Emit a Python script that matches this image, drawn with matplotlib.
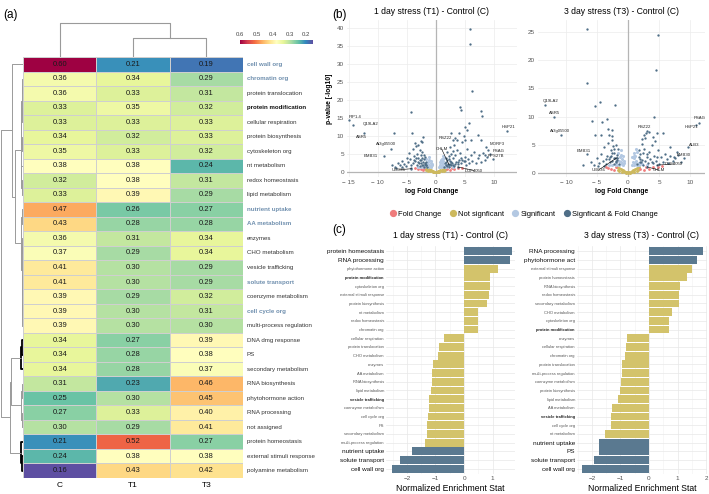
import matplotlib
matplotlib.use("Agg")
import matplotlib.pyplot as plt
from matplotlib.colors import Normalize
from matplotlib.lines import Line2D

plt.rcParams["font.family"] = ["Liberation Sans", "DejaVu Sans"]

# ---------------- data ----------------
rows = ["cell wall org", "chromatin org", "protein translocation", "protein modification",
        "cellular respiration", "protein biosynthesis", "cytoskeleton org", "nt metabolism",
        "redox homeostasis", "lipid metabolism", "nutrient uptake", "AA metabolism", "enzymes",
        "CHO metabolism", "vesicle trafficking", "solute transport", "coenzyme metabolism",
        "cell cycle org", "multi-process regulation", "DNA dmg response", "PS",
        "secondary metabolism", "RNA biosynthesis", "phytohormone action", "RNA processing",
        "not assigned", "protein homeostasis", "external stimuli response", "polyamine metabolism"]
cols = ["C", "T1", "T3"]
val_C = [0.60, 0.36, 0.36, 0.33, 0.33, 0.34, 0.35, 0.38, 0.32, 0.33, 0.47, 0.43, 0.36, 0.37, 0.41,
         0.41, 0.39, 0.39, 0.39, 0.34, 0.34, 0.34, 0.31, 0.25, 0.27, 0.30, 0.21, 0.24, 0.16]
val_T1 = [0.21, 0.34, 0.33, 0.35, 0.33, 0.32, 0.33, 0.38, 0.38, 0.39, 0.26, 0.28, 0.31, 0.29, 0.30,
          0.30, 0.29, 0.30, 0.30, 0.27, 0.28, 0.28, 0.23, 0.30, 0.33, 0.29, 0.52, 0.38, 0.43]
val_T3 = [0.19, 0.29, 0.31, 0.32, 0.33, 0.33, 0.32, 0.24, 0.31, 0.29, 0.27, 0.28, 0.34, 0.34, 0.29,
          0.29, 0.32, 0.31, 0.30, 0.39, 0.38, 0.37, 0.46, 0.45, 0.40, 0.41, 0.27, 0.38, 0.42]
blue_rows = ["cell wall org", "chromatin org", "nutrient uptake", "AA metabolism",
             "solute transport", "cell cycle org"]

# dendrogram merges (node a, node b, height); leaves are row / column indices
row_merges = [(1, 2, 0.03), (3, 4, 0.03), (29, 30, 0.05), (5, 6, 0.04), (31, 32, 0.07),
              (8, 9, 0.05), (7, 34, 0.08), (33, 35, 0.10), (10, 11, 0.06), (12, 13, 0.04),
              (14, 15, 0.02), (16, 17, 0.02), (40, 18, 0.03), (39, 41, 0.04), (38, 42, 0.06),
              (37, 43, 0.10), (36, 44, 0.38), (0, 45, 0.49), (19, 20, 0.05), (47, 21, 0.08),
              (22, 23, 0.05), (24, 25, 0.04), (49, 50, 0.08), (48, 51, 0.55), (27, 28, 0.06),
              (26, 53, 0.09), (52, 54, 0.60), (46, 55, 1.0)]
row_black = [47, 48, 53, 54]
col_merges = [(1, 2, 0.56), (0, 3, 1.0)]

# volcano: 1 day stress (T1)
t1_dark = [(-7.5, 2.0), (-7.0, 1.5), (-6.5, 2.4), (-6.2, 1.8), (-5.8, 3.1), (-5.5, 2.2), (-5.2, 1.6),
           (-5.0, 4.0), (-4.8, 2.8), (-4.6, 5.2), (-4.4, 3.5), (-4.2, 1.9), (-4.0, 6.5), (-3.9, 2.6),
           (-3.7, 4.4), (-3.5, 3.0), (-3.4, 7.2), (-3.3, 1.8), (-3.2, 5.0), (-3.0, 3.8), (-2.9, 2.4),
           (-2.8, 6.0), (-2.7, 1.6), (-2.6, 4.6), (-2.5, 3.2), (-2.4, 2.0), (-2.3, 5.5), (-2.2, 2.8),
           (-2.1, 1.5), (-2.0, 3.6), (-1.9, 2.2), (-1.8, 4.2), (-1.7, 1.8), (-1.6, 2.9), (-1.5, 1.4),
           (-3.6, 8.1), (-2.6, 8.6), (-4.3, 1.2), (-5.9, 1.3), (-6.8, 1.2),
           (-2.2, 1.9), (-2.5, 2.5), (-2.8, 3.4), (-3.1, 2.9), (-1.8, 2.6), (-2.0, 4.8), (-3.4, 4.0),
           (-3.8, 3.2), (-2.4, 3.9), (-1.6, 1.9),
           (1.5, 1.5), (1.6, 2.6), (1.7, 4.0), (1.8, 1.9), (1.9, 3.2), (2.0, 5.5), (2.1, 2.3),
           (2.2, 1.4), (2.3, 4.4), (2.4, 6.8), (2.5, 3.0), (2.6, 1.8), (2.7, 5.0), (2.8, 2.5),
           (3.0, 3.8), (3.1, 7.5), (3.2, 1.6), (3.3, 4.6), (3.5, 2.8), (3.6, 6.0), (3.8, 2.1),
           (4.0, 3.4), (4.2, 5.2), (4.4, 2.4), (4.6, 8.2), (4.8, 3.0), (5.0, 4.2), (5.2, 2.0),
           (5.4, 6.4), (5.6, 3.6), (5.8, 2.6), (6.0, 4.8), (6.3, 3.0), (6.6, 5.6), (6.9, 2.4),
           (7.2, 3.9), (7.5, 4.6), (7.8, 2.8), (8.1, 5.4), (8.4, 3.4), (8.8, 4.2), (9.3, 5.0),
           (9.8, 3.6), (3.4, 9.5), (4.0, 10.8), (2.9, 8.8), (5.0, 9.0),
           (2.0, 1.7), (2.4, 2.2), (2.9, 1.9), (3.4, 2.1), (3.9, 2.7), (4.5, 3.3), (2.2, 3.6),
           (2.6, 2.8), (1.8, 2.9), (3.0, 5.8), (4.3, 4.0), (5.1, 3.1),
           (5.9, 39.7), (5.9, 35.5), (6.2, 22.5), (4.1, 18.0), (4.3, 17.2), (7.8, 17.0), (7.9, 15.6),
           (-4.3, 16.6), (-4.1, 10.8), (-7.2, 10.8), (2.6, 10.8), (5.0, 12.5), (5.7, 13.6),
           (5.3, 11.7), (7.2, 10.3), (7.8, 8.9), (6.0, 8.9), (4.8, 10.0), (-2.2, 9.7), (-2.4, 8.3),
           (-3.1, 7.5)]
t1_light = [(-1.4, 1.5), (-1.2, 2.0), (-1.0, 1.6), (-0.9, 2.4), (-0.8, 1.4), (-0.6, 1.8), (-1.3, 2.8),
            (-1.1, 3.2), (-0.7, 2.2), (-1.5, 2.2), (0.6, 1.5), (0.8, 2.0), (0.9, 1.4), (1.0, 2.6),
            (1.1, 1.7), (1.2, 3.0), (1.3, 2.2), (1.4, 1.5), (0.7, 2.8), (1.0, 3.5), (-2.0, 1.4),
            (-2.5, 1.5), (1.8, 1.4), (2.3, 1.6), (-1.6, 3.5), (1.5, 3.8), (-3.0, 1.4), (3.0, 1.4),
            (-1.2, 4.2), (1.3, 4.5), (-0.8, 3.0), (0.9, 3.2), (-1.9, 1.7), (1.7, 1.8)]
t1_tan = [(-1.8, 1.0), (-1.5, 0.9), (-1.2, 0.7), (-1.0, 0.6), (-0.8, 0.5), (-0.6, 0.35), (-0.4, 0.25),
          (-0.2, 0.1), (0.0, 0.02), (0.2, 0.1), (0.4, 0.25), (0.6, 0.35), (0.8, 0.5), (1.0, 0.6),
          (1.2, 0.7), (1.5, 0.9), (1.8, 1.0), (-0.5, 0.1), (0.5, 0.1), (-1.0, 0.2), (1.0, 0.2),
          (-1.4, 0.4), (1.4, 0.4), (-0.3, 0.05), (0.3, 0.05), (-1.6, 0.6), (1.6, 0.6)]
t1_red = [(-3.0, 0.9), (-2.6, 0.7), (-2.2, 0.5), (-2.0, 1.1), (-3.5, 1.1), (2.0, 0.8), (2.4, 0.6),
          (2.8, 1.0), (3.2, 0.8), (3.8, 1.1), (4.5, 1.0)]
t1_genes = ["PIP1.4", "Q19LA2", "ASR5", "At3g05500", "EMB31", "UBC36", "RSZ22", "CHLM",
            "MORF3", "PSAG", "RPS27B", "HSP21", "DUF4050"]
t1_gene_fc = [-14.9, -14.2, -12.4, -7.8, -8.9, -4.2, 3.6, 2.3, 8.7, 9.0, 8.4, 12.2, 3.8]
t1_gene_p = [14.3, 13.0, 10.8, 6.5, 4.4, 0.9, 9.0, 2.0, 7.0, 6.0, 4.6, 11.4, 1.4]

# volcano: 3 day stress (T3)
t3_dark = [(-6.0, 2.0), (-5.5, 1.5), (-5.0, 2.6), (-4.6, 1.8), (-4.3, 3.4), (-4.0, 2.2), (-3.8, 4.6),
           (-3.6, 1.6), (-3.4, 3.0), (-3.2, 5.4), (-3.1, 2.4), (-3.0, 6.8), (-2.9, 1.9), (-2.8, 4.0),
           (-2.7, 3.1), (-2.6, 5.8), (-2.5, 2.2), (-2.4, 4.8), (-2.3, 1.6), (-2.2, 3.6), (-2.1, 2.7),
           (-2.0, 5.0), (-1.9, 1.9), (-1.8, 3.2), (-1.7, 2.3), (-1.6, 4.2), (-1.5, 1.6), (-3.3, 7.8),
           (-2.5, 6.6), (-4.8, 1.3), (-7.2, 1.4), (-3.9, 1.3),
           (-2.3, 2.6), (-2.6, 3.6), (-2.0, 2.2), (-2.9, 2.8), (-2.2, 4.3), (-1.8, 2.7), (-3.5, 2.4),
           (1.5, 1.6), (1.7, 2.8), (1.8, 4.0), (1.9, 1.9), (2.0, 3.3), (2.2, 5.2), (2.3, 2.3),
           (2.4, 1.5), (2.6, 4.3), (2.8, 6.2), (3.0, 2.8), (3.2, 1.8), (3.4, 3.8), (3.6, 2.4),
           (3.8, 5.0), (4.0, 1.7), (4.2, 3.1), (4.5, 2.2), (4.8, 4.0), (5.0, 1.6), (5.3, 2.8),
           (5.6, 2.0), (5.9, 3.4), (6.2, 2.4), (6.5, 1.8), (6.8, 3.0), (7.2, 2.2), (7.6, 2.6),
           (8.0, 3.2), (8.5, 2.0), (9.0, 2.7), (3.3, 7.2), (2.5, 6.8), (4.4, 5.6),
           (2.1, 2.0), (2.7, 2.2), (3.1, 3.3), (3.9, 2.0), (4.6, 2.8), (1.9, 2.5), (2.4, 3.5),
           (-6.6, 25.5), (-6.6, 16.0), (-5.3, 11.9), (-4.5, 12.6), (-2.1, 12.1), (4.8, 24.5),
           (4.5, 18.3), (4.2, 9.9), (-5.8, 9.2), (-4.2, 9.0), (-3.4, 9.6), (-5.3, 6.7), (-4.4, 6.7),
           (-2.6, 7.6), (4.7, 7.1), (5.6, 7.1), (4.0, 6.4), (2.3, 6.0), (2.9, 7.1), (6.8, 4.6),
           (7.9, 3.7)]
t3_light = [(-1.4, 1.5), (-1.2, 2.0), (-1.0, 1.6), (-0.9, 2.4), (-0.8, 1.4), (-0.6, 1.8), (-1.3, 2.8),
            (-1.1, 3.2), (-0.7, 2.2), (-1.5, 2.2), (0.6, 1.5), (0.8, 2.0), (0.9, 1.4), (1.0, 2.6),
            (1.1, 1.7), (1.2, 3.0), (1.3, 2.2), (1.4, 1.5), (0.7, 2.8), (1.0, 3.5), (-2.0, 1.4),
            (-2.5, 1.5), (1.8, 1.4), (2.3, 1.6), (-1.6, 3.5), (1.5, 3.8), (-3.0, 1.4), (3.0, 1.4),
            (-1.2, 4.0), (1.3, 4.2), (-0.8, 3.0), (0.9, 3.1), (-1.9, 1.7), (1.7, 1.8)]
t3_tan = t1_tan
t3_red = [(-3.2, 0.9), (-2.7, 0.7), (-2.2, 0.5), (-2.0, 1.1), (-3.6, 1.1), (2.0, 0.8), (2.5, 0.6),
          (2.9, 1.0), (3.4, 0.8), (4.0, 1.1), (4.8, 1.0), (5.5, 1.2)]
t3_genes = ["Q19LA2", "ASR5", "At3g05500", "EMB31", "UBC36", "RSZ22", "PSAG", "HSP21", "ALB3",
            "EMB30", "DUF4050", "CHLM"]
t3_gene_fc = [-13.4, -12.0, -10.8, -6.6, -1.8, 3.1, 11.4, 11.0, 9.6, 7.4, 4.7, 3.1]
t3_gene_p = [12.0, 9.9, 6.8, 3.3, 2.7, 7.5, 8.9, 8.5, 4.6, 2.9, 1.4, 1.1]

# enrichment (c)
nes1_labels = ["protein homeostasis", "RNA processing", "phytohormone action", "protein modification",
               "cytoskeleton org", "external stimuli response", "protein biosynthesis",
               "nt metabolism", "redox homeostasis", "chromatin org", "cellular respiration",
               "protein translocation", "CHO metabolism", "enzymes", "AA metabolism",
               "RNA biosynthesis", "lipid metabolism", "vesicle trafficking", "coenzyme metabolism",
               "cell cycle org", "PS", "secondary metabolism", "multi-process regulation",
               "nutrient uptake", "solute transport", "cell wall org"]
nes1_values = [1.66, 1.62, 1.17, 0.91, 0.92, 0.86, 0.80, 0.49, 0.47, 0.47, -0.69, -0.88, -0.92,
               -1.07, -1.11, -1.12, -1.16, -1.21, -1.22, -1.26, -1.28, -1.31, -1.35, -1.82,
               -2.23, -2.53]
nes1_sig = [True, True] + [False] * 21 + [True, True, True]
nes3_labels = ["RNA processing", "phytohormone act", "external stimuli response",
               "protein homeostasis", "RNA biosynthesis", "redox homeostasis",
               "secondary metabolism", "CHO metabolism", "cytoskeleton org", "protein modification",
               "enzymes", "cellular respiration", "chromatin org", "protein translocation",
               "multi-process regulation", "coenzyme metabolism", "protein biosynthesis",
               "lipid metabolism", "AA metabolism", "vesicle trafficking", "cell cycle org",
               "nt metabolism", "nutrient uptake", "PS", "solute transport", "cell wall org"]
nes3_values = [1.88, 1.67, 1.49, 1.32, 1.08, 1.05, 1.05, 0.79, 0.71, 0.69, -0.76, -0.79, -0.85,
               -0.93, -0.95, -0.99, -1.00, -1.07, -1.28, -1.32, -1.32, -1.55, -1.74, -1.76,
               -1.92, -2.33]
nes3_sig = [True, True] + [False] * 20 + [True, True, True, True]

# ---------------- figure ----------------
W, H = 709, 494
fig = plt.figure(figsize=(W / 100, H / 100), dpi=100)


def box(x0, y0, x1, y1):
    return [x0 / W, 1 - y1 / H, (x1 - x0) / W, (y1 - y0) / H]


def dendro_segments(merges, n_leaves):
    pos = {i: i + 0.5 for i in range(n_leaves)}
    hgt = {i: 0.0 for i in range(n_leaves)}
    segs = []
    for k, (a, b, h) in enumerate(merges):
        node = n_leaves + k
        segs.append((node, [pos[a], pos[a], pos[b], pos[b]], [hgt[a], h, h, hgt[b]]))
        pos[node] = (pos[a] + pos[b]) / 2
        hgt[node] = h
    return segs


# heatmap
mat = [[c, t1, t3] for c, t1, t3 in zip(val_C, val_T1, val_T3)]
norm = Normalize(vmin=0.16, vmax=0.60)
cmap = plt.get_cmap("Spectral_r")
axh = fig.add_axes(box(23, 57, 243, 478))
mesh = axh.pcolormesh(mat, cmap=cmap, norm=norm, edgecolors="#cfcfcf", linewidth=0.5)
axh.set_xlim(0, 3)
axh.set_ylim(len(rows), 0)
for i in range(len(rows)):
    for j in range(3):
        axh.text(j + 0.5, i + 0.5, f"{mat[i][j]:.2f}", ha="center", va="center", fontsize=5.5,
                 color="#1a1a1a")
    if rows[i] in blue_rows:
        axh.text(3.05, i + 0.5, rows[i], ha="left", va="center", fontsize=4.4,
                 color="#6f8fae", fontweight="bold")
    elif rows[i] == "protein modification":
        axh.text(3.05, i + 0.5, rows[i], ha="left", va="center", fontsize=4.4,
                 color="#111111", fontweight="bold")
    else:
        axh.text(3.05, i + 0.5, rows[i], ha="left", va="center", fontsize=4.4, color="#333333")
axh.set_xticks([0.5, 1.5, 2.5])
axh.set_xticklabels(cols, fontsize=6)
axh.set_yticks([])
axh.tick_params(length=0, pad=3)
for s in axh.spines.values():
    s.set_visible(False)

# row dendrogram
axr = fig.add_axes(box(0, 57, 23, 478))
for node, ys, hs in dendro_segments(row_merges, len(rows)):
    black = node in row_black
    axr.plot(hs, ys, color="black" if black else "#9a9a9a", lw=1.3 if black else 0.7,
             solid_capstyle="butt")
axr.set_xlim(1.03, 0)
axr.set_ylim(len(rows), 0)
axr.axis("off")

# column dendrogram
axc = fig.add_axes(box(23, 22, 243, 57))
for node, xs, hs in dendro_segments(col_merges, 3):
    axc.plot(xs, hs, color="#9a9a9a", lw=0.8)
axc.set_xlim(0, 3)
axc.set_ylim(0, 1.03)
axc.axis("off")

# colorbar
cax = fig.add_axes(box(240, 40, 313, 44))
cb = fig.colorbar(mesh, cax=cax, orientation="horizontal")
cb.outline.set_visible(False)
cax.invert_xaxis()
cb.set_ticks([0.6, 0.5, 0.4, 0.3, 0.2])
cax.xaxis.set_ticks_position("top")
cax.tick_params(labelsize=4.3, length=0, pad=2, colors="#444444")

fig.text(3 / W, 1 - 15 / H, "(a)", fontsize=8.5, va="center")
fig.text(332 / W, 1 - 15 / H, "(b)", fontsize=8.5, va="center")
fig.text(332 / W, 1 - 230 / H, "(c)", fontsize=8.5, va="center")

# volcano plots
c_dark, c_light, c_tan, c_red = "#4f6e87", "#b3c8e2", "#cdb95e", "#ef7c7c"
label_at = {
    "T1": {"PIP1.4": (-13.9, 15.3), "Q19LA2": (-11.3, 13.2), "ASR5": (-12.8, 9.6),
           "At3g05500": (-8.6, 7.9), "EMB31": (-11.2, 4.5), "UBC36": (-6.4, 0.6),
           "RSZ22": (1.6, 9.3), "CHLM": (1.0, 6.4), "MORF3": (10.6, 7.9), "PSAG": (10.9, 5.7),
           "RPS27B": (10.4, 4.3), "HSP21": (12.5, 12.6), "DUF4050": (6.6, 0.4)},
    "T3": {"Q19LA2": (-12.4, 12.8), "ASR5": (-11.8, 10.7), "At3g05500": (-11.0, 7.5),
           "EMB31": (-7.1, 3.9), "UBC36": (-4.8, 0.5), "RSZ22": (2.6, 8.2), "PSAG": (11.5, 9.8),
           "HSP21": (10.2, 8.2), "ALB3": (10.6, 5.0), "EMB30": (8.9, 3.2), "DUF4050": (7.4, 1.6),
           "CHLM": (5.0, 0.5)},
}
linked = {"T1": ["UBC36", "CHLM", "DUF4050"], "T3": ["UBC36", "DUF4050", "CHLM"]}

panels = [
    ("T1", "1 day stress (T1) - Control (C)", box(347, 20, 517, 177), (-15.3, 14.0), (-1.4, 42.2),
     [0, 5, 10, 15, 20, 25, 30, 35, 40], t1_dark, t1_light, t1_tan, t1_red, t1_genes, t1_gene_fc,
     t1_gene_p),
    ("T3", "3 day stress (T3) - Control (C)", box(538, 20, 705, 177), (-14.5, 12.4), (-0.7, 27.1),
     [0, 5, 10, 15, 20, 25], t3_dark, t3_light, t3_tan, t3_red, t3_genes, t3_gene_fc, t3_gene_p),
]
for (key, title, rect, xl, yl, yt, dark, light, tan, red, genes, gfc, gp) in panels:
    ax = fig.add_axes(rect)
    ax.grid(color="#ececec", lw=0.5)
    ax.set_axisbelow(True)
    ax.axvline(0, color="#b5b5b5", lw=0.9, zorder=1)
    ax.axhline(0, color="#b5b5b5", lw=0.9, zorder=1)
    ax.scatter([p[0] for p in tan], [p[1] for p in tan], s=4.5, color=c_tan, lw=0, zorder=2)
    ax.scatter([p[0] for p in red], [p[1] for p in red], s=4, color=c_red, lw=0, zorder=2)
    ax.scatter([p[0] for p in light], [p[1] for p in light], s=5, color=c_light, lw=0, zorder=2)
    ax.scatter([p[0] for p in dark], [p[1] for p in dark], s=2.8, color=c_dark, lw=0, zorder=3)
    ax.scatter(gfc, gp, s=2.8, color=c_dark, lw=0, zorder=3)
    for g, fc, pv in zip(genes, gfc, gp):
        tx, ty = label_at[key][g]
        if g in linked[key]:
            ax.plot([fc, tx], [pv, ty], color="black", lw=0.4, zorder=4)
        ax.text(tx, ty, g, fontsize=3.1, ha="center", va="center", color="#222222", zorder=5)
    ax.set_xlim(*xl)
    ax.set_ylim(*yl)
    ax.set_yticks(yt)
    ax.set_xticks([-15, -10, -5, 0, 5, 10] if key == "T1" else [-10, -5, 0, 5, 10])
    ax.set_xticklabels([f"{int(t)}".replace("-", "\u2212 ") for t in ax.get_xticks()])
    ax.tick_params(labelsize=4.6, length=0, pad=2, colors="#555555")
    for s in ax.spines.values():
        s.set_visible(False)
    ax.set_title(title, fontsize=6.2, pad=4)
    ax.set_xlabel("log Fold Change", fontsize=4.9, fontweight="bold", labelpad=2)
    if key == "T1":
        ax.set_ylabel("p-value [-log10]", fontsize=4.9, fontweight="bold", labelpad=3)

handles = [Line2D([], [], marker="o", ls="", color=c, markersize=4.2)
           for c in [c_red, c_tan, c_light, c_dark]]
fig.legend(handles, ["Fold Change", "Not signficant", "Significant", "Signficant & Fold Change"],
           loc="center", bbox_to_anchor=(523 / W, 1 - 214 / H), ncol=4, frameon=False,
           fontsize=5.4, handletextpad=0.1, columnspacing=0.9, handlelength=1.2)

# enrichment bars
bar_dark, bar_tan = "#5a7990", "#d3c36b"
bold_small = ["protein modification", "vesicle trafficking"]
bar_panels = [
    ("1 day stress (T1) - Control (C)", box(386, 246, 515, 474), (-2.73, 1.78), [-2, -1, 0, 1],
     nes1_labels, nes1_values, nes1_sig),
    ("3 day stress (T3) - Control (C)", box(577, 246, 707, 474), (-2.52, 2.03), [-2, -1, 0, 1, 2],
     nes3_labels, nes3_values, nes3_sig),
]
for title, rect, xl, xt, labels, vals, sig in bar_panels:
    ax = fig.add_axes(rect)
    n = len(labels)
    ax.barh(range(n), vals, height=0.9, color=[bar_dark if s else bar_tan for s in sig], zorder=2)
    ax.set_xlim(*xl)
    ax.set_ylim(n - 0.4, -0.6)
    ax.set_xticks(xt)
    ax.set_xticks([t + 0.5 for t in xt[:-1]] + [xt[0] - 0.5], minor=True)
    ax.grid(which="major", color="#e8e8e8", lw=0.5)
    ax.grid(which="minor", axis="x", color="#f2f2f2", lw=0.4)
    ax.set_axisbelow(True)
    ax.set_yticks(range(n))
    ax.set_yticklabels(labels)
    for tl, s in zip(ax.get_yticklabels(), sig):
        if s:
            tl.set_fontsize(4.6)
            tl.set_color("#111111")
        else:
            tl.set_fontsize(2.9)
            tl.set_color("#555555")
            if tl.get_text() in bold_small:
                tl.set_fontweight("bold")
                tl.set_color("#222222")
    ax.tick_params(axis="x", labelsize=4.6, colors="#555555")
    ax.tick_params(which="both", length=0, pad=1.5)
    for s in ax.spines.values():
        s.set_visible(False)
    ax.set_title(title, fontsize=6.2, pad=6)
    ax.set_xlabel("Normalized Enrichment Stat", fontsize=6.2, labelpad=2)

fig.savefig("out.png", dpi=100)
